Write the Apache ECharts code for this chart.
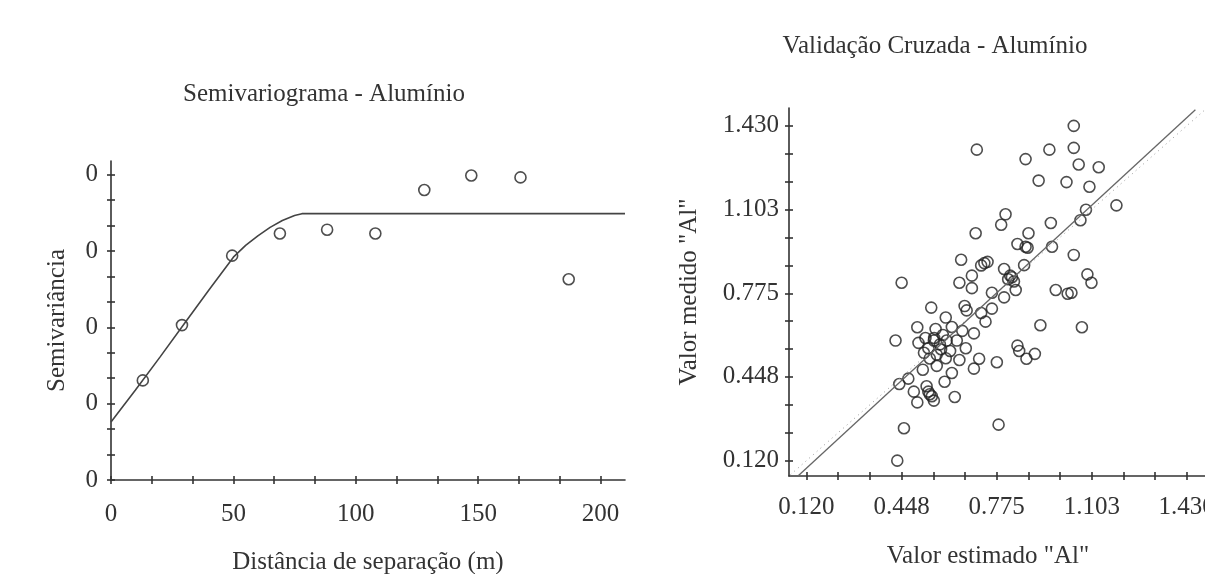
<!DOCTYPE html>
<html><head><meta charset="utf-8">
<script src="https://cdn.jsdelivr.net/npm/echarts@6/dist/echarts.min.js"></script>
<style>html,body{margin:0;padding:0;background:#fff}#c{width:1205px;height:574px}</style>
</head><body><div id="c"></div>
<script>
// ---------- data ----------
const semiTitle = 'Semivariograma - Alumínio';
const cvTitle = 'Validação Cruzada - Alumínio';
const semiXName = 'Distância de separação (m)';
const semiYName = 'Semivariância';
const cvXName = 'Valor estimado "Al"';
const cvYName = 'Valor medido "Al"';

const semiLag   = [13, 29, 49.5, 69, 88.3, 108, 128, 147.2, 167.3, 187];
const semiGamma = [0.0261, 0.0406, 0.0588, 0.0646, 0.0656, 0.0646, 0.0760, 0.0798, 0.0793, 0.0526];
const modelLag   = [0, 10, 20, 30, 40, 50, 55, 60, 65, 70, 75, 78, 210];
const modelGamma = [0.0152, 0.0236, 0.0322, 0.0410, 0.0498, 0.0584, 0.0615, 0.0640, 0.0662, 0.0680, 0.0693, 0.0698, 0.0698];

const semiXTicks = [0, 50, 100, 150, 200];
const semiYTicks = [0, 0.02, 0.04, 0.06, 0.08];
const semiYTickLabels = ['0', '0', '0', '0', '0'];
const cvTicks = [0.120, 0.448, 0.775, 1.103, 1.430];
const cvTickLabels = ['0.120', '0.448', '0.775', '1.103', '1.430'];

const estX = [1.041,0.707,0.957,1.041,0.875,1.058,1.127,0.920,1.016,1.095,1.188,1.083,1.064,0.806,0.791,0.703,0.962,0.885,0.847,0.875,0.882,0.966,1.041,0.653,0.744,0.722,0.801,0.870,0.690,0.822,0.835,1.088,1.102,0.448,0.647,0.690,0.759,0.841,0.801,0.979,1.020,1.033,0.550,0.665,0.672,0.722,0.759,0.600,0.737,0.926,1.069,0.502,0.565,0.621,0.657,0.697,0.427,0.506,0.559,0.603,0.638,0.584,0.615,0.669,0.525,0.569,0.600,0.647,0.715,0.776,0.847,0.853,0.878,0.907,0.521,0.569,0.621,0.697,0.471,0.440,0.596,0.490,0.534,0.540,0.552,0.559,0.502,0.631,0.782,0.456,0.433,0.540,0.560,0.580,0.530,0.545,0.590,0.815,0.828,0.545,0.733];
const measY = [1.430,1.337,1.337,1.344,1.300,1.279,1.268,1.216,1.210,1.192,1.119,1.102,1.061,1.084,1.043,1.010,1.050,1.010,0.968,0.957,0.953,0.957,0.925,0.906,0.898,0.884,0.870,0.885,0.844,0.844,0.821,0.849,0.816,0.816,0.816,0.795,0.777,0.788,0.759,0.788,0.773,0.777,0.719,0.725,0.708,0.698,0.715,0.680,0.664,0.650,0.642,0.642,0.635,0.643,0.628,0.618,0.590,0.581,0.590,0.590,0.590,0.556,0.549,0.560,0.542,0.535,0.521,0.514,0.519,0.505,0.570,0.549,0.519,0.538,0.476,0.491,0.463,0.480,0.441,0.420,0.429,0.390,0.411,0.390,0.372,0.355,0.348,0.369,0.261,0.247,0.120,0.560,0.600,0.575,0.600,0.520,0.612,0.830,0.838,0.380,0.893];

const regX = [0.090, 1.460];
const regY = [0.059, 1.493];
const idX = [0.065, 1.490];
const idY = [0.065, 1.490];

// ---------- helpers ----------
const FONT = '"Liberation Serif", "Times New Roman", serif';
const TXT = '#333';
const LINE = '#333';
function minorOf(ticks, n) {
  const out = [];
  for (let i = 0; i < ticks.length - 1; i++) {
    for (let k = 0; k < n; k++) out.push(ticks[i] + (ticks[i + 1] - ticks[i]) * k / n);
  }
  out.push(ticks[ticks.length - 1]);
  return out;
}
function labelFor(ticks, labels) {
  return v => { const i = ticks.findIndex(t => Math.abs(t - v) < 1e-6); return i >= 0 ? labels[i] : ''; };
}
const semiXMinor = minorOf(semiXTicks, 3);
const semiYMinor = minorOf(semiYTicks, 3);
const cvMinor = minorOf(cvTicks, 3);

function axisPair(kind, grid, min, max, minor, labels, fmt, margin, name, nameGap, namePad) {
  const pos = kind === 'x' ? 'bottom' : 'left';
  const main = {
    type: 'value', gridIndex: grid, min, max, position: pos,
    axisLine: { onZero: false, lineStyle: { color: LINE, width: 1.6 } },
    axisTick: { customValues: minor, length: 4, lineStyle: { color: LINE, width: 1.6 } },
    axisLabel: { customValues: labels, formatter: fmt, fontFamily: FONT, fontSize: 25, color: TXT, margin },
    splitLine: { show: false },
    name, nameLocation: 'middle', nameGap,
    nameTextStyle: { fontFamily: FONT, fontSize: 25, color: TXT, padding: namePad || 0 }
  };
  const inner = {
    type: 'value', gridIndex: grid, min, max, position: pos,
    axisLine: { show: false, onZero: false },
    axisTick: { customValues: minor, inside: true, length: 4, lineStyle: { color: LINE, width: 1.6 } },
    axisLabel: { show: false }, splitLine: { show: false }
  };
  return [main, inner];
}

const xAxes = [
  ...axisPair('x', 0, 0, 210, semiXMinor, semiXTicks, v => String(Math.round(v)), 22, semiXName, 70),
  ...axisPair('x', 1, 0.06, 1.50, cvMinor, cvTicks, labelFor(cvTicks, cvTickLabels), 19, cvXName, 68, [0, 20, 0, 0])
];
const yAxes = [
  ...axisPair('y', 0, 0, 0.0836, semiYMinor, semiYTicks, labelFor(semiYTicks, semiYTickLabels), 13, semiYName, 41),
  ...axisPair('y', 1, 0.06, 1.50, cvMinor, cvTicks, labelFor(cvTicks, cvTickLabels), 10, cvYName, 87)
];

const circle = { color: 'rgba(0,0,0,0)', borderColor: '#222', borderWidth: 1.6 };

const chart = echarts.init(document.getElementById('c'), null, { renderer: 'canvas' });
chart.setOption({
  animation: false,
  backgroundColor: '#fff',
  grid: [
    { left: 111, top: 161, width: 514, height: 319, containLabel: false, outerBoundsMode: 'none' },
    { left: 789, top: 108, width: 418, height: 368, containLabel: false, outerBoundsMode: 'none' }
  ],
  xAxis: xAxes,
  yAxis: yAxes,
  graphic: [
    { type: 'text', x: 324, y: 94, style: { text: semiTitle, font: '25px ' + FONT, fill: TXT, align: 'center', verticalAlign: 'middle' } },
    { type: 'text', x: 935, y: 46, style: { text: cvTitle, font: '25px ' + FONT, fill: TXT, align: 'center', verticalAlign: 'middle' } }
  ],
  series: [
    {
      type: 'line', xAxisIndex: 0, yAxisIndex: 0, showSymbol: false, silent: true,
      data: modelLag.map((x, i) => [x, modelGamma[i]]),
      lineStyle: { color: '#444', width: 1.6 }
    },
    {
      type: 'scatter', xAxisIndex: 0, yAxisIndex: 0, symbol: 'circle', symbolSize: 11,
      data: semiLag.map((x, i) => [x, semiGamma[i]]), itemStyle: circle
    },
    {
      type: 'line', xAxisIndex: 2, yAxisIndex: 2, showSymbol: false, silent: true,
      data: idX.map((x, i) => [x, idY[i]]),
      lineStyle: { color: '#999', width: 1, type: [1, 4] }
    },
    {
      type: 'line', xAxisIndex: 2, yAxisIndex: 2, showSymbol: false, silent: true,
      data: regX.map((x, i) => [x, regY[i]]),
      lineStyle: { color: '#666', width: 1.3 }
    },
    {
      type: 'scatter', xAxisIndex: 2, yAxisIndex: 2, symbol: 'circle', symbolSize: 11,
      data: estX.map((x, i) => [x, measY[i]]), itemStyle: circle
    }
  ]
});
</script>
</body></html>
